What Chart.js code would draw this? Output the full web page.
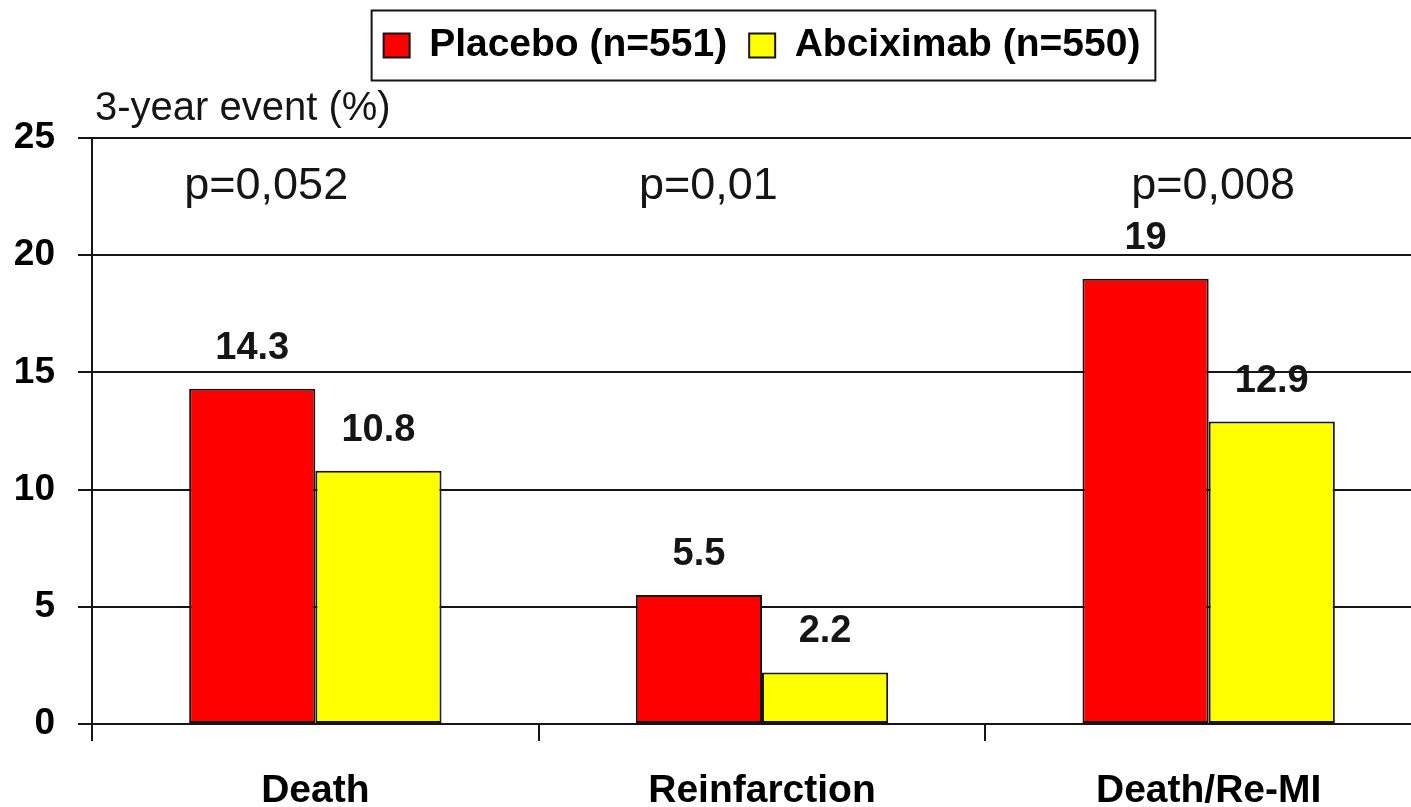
<!DOCTYPE html>
<html>
<head>
<meta charset="utf-8">
<script src="https://cdn.jsdelivr.net/npm/chart.js@4/dist/chart.umd.min.js"></script>
<style>
  html, body { margin: 0; padding: 0; background: #ffffff; overflow: hidden; }
  #wrap { width: 1411px; height: 807px; overflow: hidden; }
  canvas { display: block; }
</style>
</head>
<body>
<div id="wrap"><canvas id="c" width="1432" height="807"></canvas></div>
<script>
// Outcome categories and 3-year event rates (%)
const categories = ['Death', 'Reinfarction', 'Death/Re-MI'];
const placebo = [14.3, 5.5, 19];
const abciximab = [10.8, 2.2, 12.9];
const pValues = ['p=0,052', 'p=0,01', 'p=0,008'];
const seriesNames = ['Placebo (n=551)', 'Abciximab (n=550)'];
const yTicks = [0, 5, 10, 15, 20, 25];

const FONT = "'Liberation Sans', Arial, sans-serif";
const INK = '#151515';

// Legend band tall enough to hold the axis caption below it
const legendBand = {
  id: 'legendBand',
  beforeInit(chart) {
    const origFit = chart.legend.fit;
    chart.legend.fit = function () {
      origFit.call(this);
      this.height = 134;
    };
  }
};

// Frame around the legend, axis caption, bar values and p-values
const decorations = {
  id: 'decorations',
  afterDraw(chart, args, opts) {
    const ctx = chart.ctx;
    const area = chart.chartArea;
    const x = chart.scales.x;
    const y = chart.scales.y;

    // legend frame
    const boxes = chart.legend.legendHitBoxes;
    if (boxes && boxes.length) {
      const first = boxes[0], last = boxes[boxes.length - 1];
      const l = first.left - 12, r = last.left + last.width + 15;
      const cy = first.top + first.height / 2;
      ctx.save();
      ctx.strokeStyle = INK;
      ctx.lineWidth = 2;
      ctx.strokeRect(l, cy - 35, r - l, 70);
      ctx.restore();
    }

    ctx.save();
    // axis caption
    ctx.fillStyle = INK;
    ctx.font = "40px " + FONT;
    ctx.textAlign = 'left';
    ctx.textBaseline = 'alphabetic';
    ctx.fillText(opts.caption, area.left + 3, area.top - 18);

    // bar value labels
    ctx.font = "bold 38px " + FONT;
    ctx.textAlign = 'center';
    chart.data.datasets.forEach((ds, di) => {
      const meta = chart.getDatasetMeta(di);
      meta.data.forEach((bar, i) => {
        ctx.fillText(String(ds.data[i]), bar.x, bar.y - 30);
      });
    });

    // p-values above each group
    ctx.font = "45px " + FONT;
    const catW = x.getPixelForValue(1) - x.getPixelForValue(0);
    pValues.forEach((p, i) => {
      const cx = x.getPixelForValue(i) + opts.pShift[i] * catW;
      ctx.fillText(p, cx, y.getPixelForValue(opts.pLevel));
    });
    ctx.restore();
  }
};

new Chart(document.getElementById('c'), {
  type: 'bar',
  data: {
    labels: categories,
    datasets: [
      { label: seriesNames[0], data: placebo, backgroundColor: '#ff0000', borderColor: INK, borderWidth: 2, borderSkipped: false },
      { label: seriesNames[1], data: abciximab, backgroundColor: '#ffff00', borderColor: INK, borderWidth: 2, borderSkipped: false }
    ]
  },
  options: {
    responsive: false,
    devicePixelRatio: 1,
    animation: false,
    layout: { padding: { top: 4, left: 0, right: 0, bottom: 0 } },
    datasets: { bar: { categoryPercentage: 0.565, barPercentage: 1.0 } },
    scales: {
      x: {
        offset: true,
        afterFit(axis) { axis.height = 83; },
        grid: { offset: true, drawOnChartArea: false, drawTicks: true, tickLength: 17, color: INK, lineWidth: 2 },
        border: { display: true, color: INK, width: 2 },
        ticks: { color: '#000', font: { family: FONT, size: 39, weight: 'bold' }, padding: 27 }
      },
      y: {
        min: 0, max: 25,
        afterFit(axis) { axis.width = 92; },
        afterBuildTicks(axis) { axis.ticks = yTicks.map(v => ({ value: v })); },
        grid: { color: INK, lineWidth: 2, tickLength: 14, drawTicks: true },
        border: { display: true, color: INK, width: 2 },
        ticks: { color: '#000', font: { family: FONT, size: 37, weight: 'bold' }, padding: 23 }
      }
    },
    plugins: {
      legend: {
        position: 'top',
        fullSize: false,
        labels: {
          color: '#000',
          font: { family: FONT, size: 39, weight: 'bold' },
          boxWidth: 26, boxHeight: 24, padding: 22,
          generateLabels(chart) {
            return chart.data.datasets.map((ds, i) => ({
              text: ds.label, fillStyle: ds.backgroundColor, strokeStyle: INK, lineWidth: 2,
              hidden: false, datasetIndex: i, fontColor: '#000'
            }));
          }
        }
      },
      tooltip: { enabled: false },
      decorations: { caption: '3-year event (%)', pShift: [-0.11, -0.12, 0.01], pLevel: 22.4 }
    }
  },
  plugins: [legendBand, decorations]
});
</script>
</body>
</html>
